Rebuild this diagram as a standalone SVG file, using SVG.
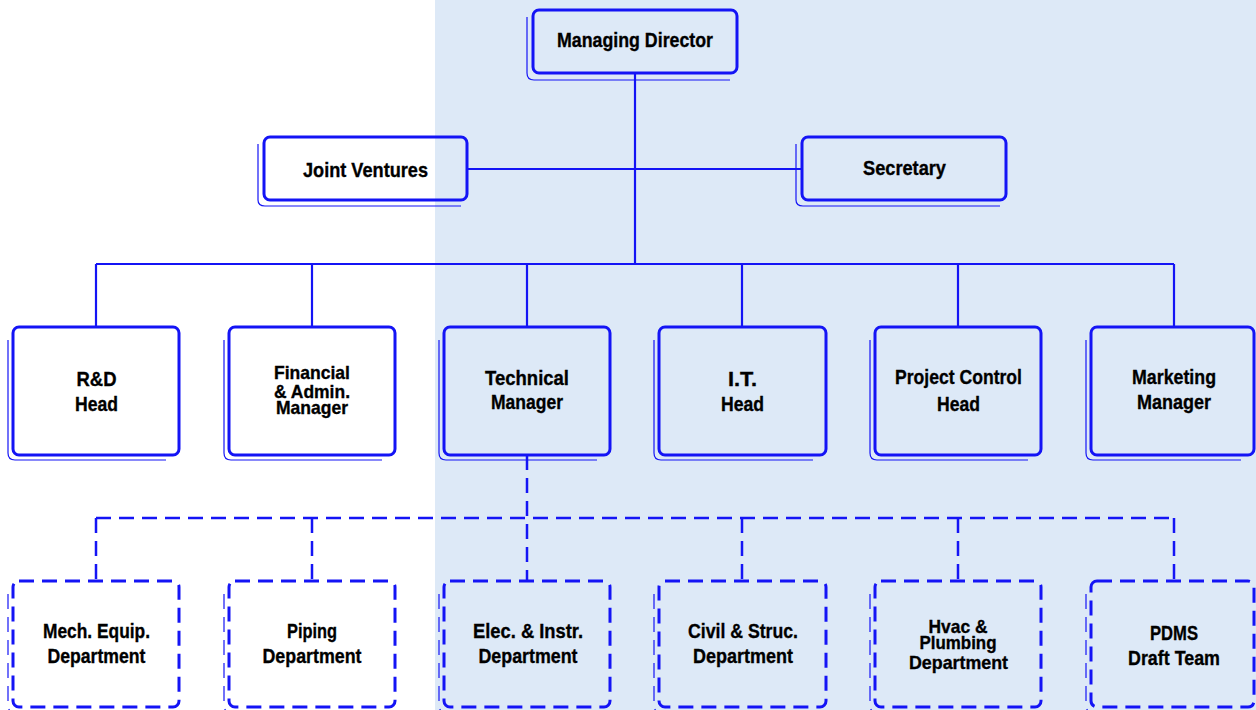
<svg xmlns="http://www.w3.org/2000/svg" width="1256" height="710" viewBox="0 0 1256 710">
<style>
.box{fill:none;stroke:#1414f5;stroke-width:3}
.dbox{fill:none;stroke:#1414f5;stroke-width:3;stroke-dasharray:15 8}
.sh{fill:none;stroke:#1414f5;stroke-width:1.2}
.dsh{fill:none;stroke:#1414f5;stroke-width:1.2;stroke-dasharray:15 8}
.ln{fill:none;stroke:#1414f5;stroke-width:2.2}
.dln{fill:none;stroke:#1414f5;stroke-width:2.5;stroke-dasharray:15 8}
text{font-family:"Liberation Sans Narrow","Liberation Sans",Arial,sans-serif;font-weight:bold;font-size:21px;fill:#000;stroke:#000;stroke-width:0.35;text-anchor:middle}
text.s3{font-size:19px}
</style>
<rect x="0" y="0" width="1256" height="710" fill="#ffffff"/>
<rect x="435" y="0" width="821" height="710" fill="#dde9f7"/>

<g id="connectors">
<path class="ln" d="M635 73 V264"/>
<path class="ln" d="M467 169 H802"/>
<path class="ln" d="M96 264 H1174"/>
<path class="ln" d="M96 264 V327 M312 264 V327 M527 264 V327 M742 264 V327 M958 264 V327 M1174 264 V327"/>
<path class="dln" d="M527 455 V581"/>
<path class="dln" d="M96 518 H1174"/>
<path class="dln" d="M96 518 V581 M312 518 V581 M742 518 V581 M958 518 V581 M1174 518 V581"/>
</g>

<g id="managing-director">
<path class="sh" d="M527 17 V73 Q527 80 534 80 H730"/>
<rect class="box" x="533" y="10" width="204" height="63" rx="6"/>
<text x="635" y="47" textLength="156" lengthAdjust="spacingAndGlyphs">Managing Director</text>
</g>

<g id="joint-ventures">
<path class="sh" d="M258 144 V200 Q258 206 265 206 H461"/>
<rect class="box" x="264" y="137" width="203" height="63" rx="6"/>
<text x="365.5" y="177" textLength="125" lengthAdjust="spacingAndGlyphs">Joint Ventures</text>
</g>

<g id="secretary">
<path class="sh" d="M796 144 V200 Q796 206 803 206 H1000"/>
<rect class="box" x="802" y="137" width="204" height="63" rx="6"/>
<text x="904.5" y="175" textLength="83" lengthAdjust="spacingAndGlyphs">Secretary</text>
</g>

<g id="rd-head">
<path class="sh" d="M8 340 V453 Q8 460 15 460 H166"/>
<rect class="box" x="13" y="327" width="166" height="128" rx="6"/>
<text x="96.5" y="386" textLength="40" lengthAdjust="spacingAndGlyphs">R&amp;D</text>
<text x="96.5" y="411" textLength="43" lengthAdjust="spacingAndGlyphs">Head</text>
</g>

<g id="financial-admin-manager">
<path class="sh" d="M224 340 V453 Q224 460 231 460 H382"/>
<rect class="box" x="229" y="327" width="166" height="128" rx="6"/>
<text class="s3" x="312" y="379" textLength="76" lengthAdjust="spacingAndGlyphs">Financial</text>
<text class="s3" x="312" y="398" textLength="76" lengthAdjust="spacingAndGlyphs">&amp; Admin.</text>
<text class="s3" x="312" y="414" textLength="72" lengthAdjust="spacingAndGlyphs">Manager</text>
</g>

<g id="technical-manager">
<path class="sh" d="M439 340 V453 Q439 460 446 460 H597"/>
<rect class="box" x="444" y="327" width="166" height="128" rx="6"/>
<text x="527" y="385" textLength="84" lengthAdjust="spacingAndGlyphs">Technical</text>
<text x="527" y="409" textLength="72" lengthAdjust="spacingAndGlyphs">Manager</text>
</g>

<g id="it-head">
<path class="sh" d="M654 340 V453 Q654 460 661 460 H813"/>
<rect class="box" x="659" y="327" width="167" height="128" rx="6"/>
<text x="742.5" y="386" textLength="29" lengthAdjust="spacingAndGlyphs">I.T.</text>
<text x="742.5" y="411" textLength="43" lengthAdjust="spacingAndGlyphs">Head</text>
</g>

<g id="project-control-head">
<path class="sh" d="M870 340 V453 Q870 460 877 460 H1028"/>
<rect class="box" x="875" y="327" width="166" height="128" rx="6"/>
<text x="958.5" y="384" textLength="127" lengthAdjust="spacingAndGlyphs">Project Control</text>
<text x="958.5" y="411" textLength="43" lengthAdjust="spacingAndGlyphs">Head</text>
</g>

<g id="marketing-manager">
<path class="sh" d="M1086 340 V453 Q1086 460 1093 460 H1241"/>
<rect class="box" x="1091" y="327" width="163" height="128" rx="6"/>
<text x="1174" y="384" textLength="84" lengthAdjust="spacingAndGlyphs">Marketing</text>
<text x="1174" y="409" textLength="74" lengthAdjust="spacingAndGlyphs">Manager</text>
</g>

<g id="mech-equip-department">
<path class="dsh" d="M8 594 V706 Q8 712 15 712"/>
<rect class="dbox" x="13" y="581" width="166" height="126" rx="6"/>
<text x="96.5" y="638" textLength="107" lengthAdjust="spacingAndGlyphs">Mech. Equip.</text>
<text x="96.5" y="663" textLength="98" lengthAdjust="spacingAndGlyphs">Department</text>
</g>

<g id="piping-department">
<path class="dsh" d="M224 594 V706 Q224 712 231 712"/>
<rect class="dbox" x="229" y="581" width="166" height="126" rx="6"/>
<text x="312" y="638" textLength="50" lengthAdjust="spacingAndGlyphs">Piping</text>
<text x="312" y="663" textLength="99" lengthAdjust="spacingAndGlyphs">Department</text>
</g>

<g id="elec-instr-department">
<path class="dsh" d="M439 594 V706 Q439 712 446 712"/>
<rect class="dbox" x="444" y="581" width="166" height="126" rx="6"/>
<text x="528" y="638" textLength="110" lengthAdjust="spacingAndGlyphs">Elec. &amp; Instr.</text>
<text x="528" y="663" textLength="99" lengthAdjust="spacingAndGlyphs">Department</text>
</g>

<g id="civil-struc-department">
<path class="dsh" d="M654 594 V706 Q654 712 661 712"/>
<rect class="dbox" x="659" y="581" width="167" height="126" rx="6"/>
<text x="743" y="638" textLength="110" lengthAdjust="spacingAndGlyphs">Civil &amp; Struc.</text>
<text x="743" y="663" textLength="100" lengthAdjust="spacingAndGlyphs">Department</text>
</g>

<g id="hvac-plumbing-department">
<path class="dsh" d="M870 594 V706 Q870 712 877 712"/>
<rect class="dbox" x="875" y="581" width="166" height="126" rx="6"/>
<text class="s3" x="958" y="633" textLength="59" lengthAdjust="spacingAndGlyphs">Hvac &amp;</text>
<text class="s3" x="958" y="649" textLength="77" lengthAdjust="spacingAndGlyphs">Plumbing</text>
<text class="s3" x="958.5" y="669" textLength="99" lengthAdjust="spacingAndGlyphs">Department</text>
</g>

<g id="pdms-draft-team">
<path class="dsh" d="M1086 594 V706 Q1086 712 1093 712"/>
<rect class="dbox" x="1091" y="581" width="163" height="126" rx="6"/>
<text x="1174" y="640" textLength="48" lengthAdjust="spacingAndGlyphs">PDMS</text>
<text x="1174" y="665" textLength="92" lengthAdjust="spacingAndGlyphs">Draft Team</text>
</g>
</svg>
